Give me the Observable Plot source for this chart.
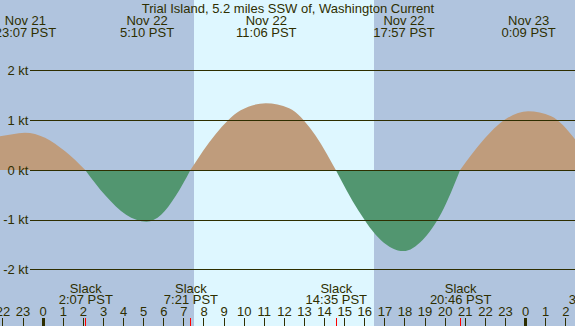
<!DOCTYPE html>
<html><head><meta charset="utf-8">
<script src="https://cdn.jsdelivr.net/npm/d3@7"></script>
<script src="https://cdn.jsdelivr.net/npm/@observablehq/plot@0.6"></script>
<style>body{margin:0;background:#b0c4de;overflow:hidden}</style>
</head><body><div id="chart"></div>
<script>
// Hours are measured from Nov 22 00:00 PST
const title = "Trial Island, 5.2 miles SSW of, Washington Current";
const curveHours = [-2.124, -1.5, -0.883, 0.117, 1.117, 2.117, 3.133, 4.15, 5.167, 5.894, 6.622, 7.35, 8.6, 9.85, 11.1, 12.26, 13.42, 14.583, 15.705, 16.83, 17.95, 18.89, 19.83, 20.767, 21.89, 23.02, 24.15, 25.3, 26.483];
const curveKnots = [0.68, 0.72, 0.75, 0.65, 0.375, 0, -0.52, -0.90, -1.04, -0.90, -0.52, 0, 0.72, 1.2, 1.34, 1.24, 0.78, 0, -0.815, -1.41, -1.63, -1.41, -0.87, 0, 0.59, 1.02, 1.18, 1.08, 0.62];
const extremeHours = [-0.883, 5.167, 11.1, 17.95, 24.15];
const extremeDates = ["Nov 21", "Nov 22", "Nov 22", "Nov 22", "Nov 23"];
const extremeTimes = ["23:07 PST", "5:10 PST", "11:06 PST", "17:57 PST", "0:09 PST"];
const slackHours = [2.117, 7.35, 14.583, 20.767, 27.5];
const slackTimes = ["2:07 PST", "7:21 PST", "14:35 PST", "20:46 PST", "3:30 PST"];
const hourTicks = [-2,-1,0,1,2,3,4,5,6,7,8,9,10,11,12,13,14,15,16,17,18,19,20,21,22,23,24,25,26];
const hourLabels = ["22","23","0","1","2","3","4","5","6","7","8","9","10","11","12","13","14","15","16","17","18","19","20","21","22","23","0","1","2"];
const midnightHours = [0, 24];
const daylight = [{start: 7.53, end: 16.48}];
const ktTicks = [2, 1, 0, -1, -2];

const ink = "#2e2e00";
const rows = [];
let seg = 0;
curveHours.forEach((t, i) => {
  rows.push({t, v: curveKnots[i], seg});
  if (curveKnots[i] === 0 && i > 0 && i < curveHours.length - 1) {
    seg++;
    rows.push({t, v: 0, seg});
  }
});
const segSign = {};
rows.forEach(r => { if (r.v !== 0) segSign[r.seg] = Math.sign(r.v); });
const flood = rows.filter(r => segSign[r.seg] > 0);
const ebb = rows.filter(r => segSign[r.seg] < 0);

const chart = Plot.plot({
  width: 575, height: 326, margin: 0,
  x: {domain: [-2.124, 26.483], axis: null},
  y: {domain: [-3.136, 3.417], axis: null},
  style: {background: "#b0c4de", fontFamily: "'Liberation Sans', Arial, sans-serif", fontSize: "13px", color: ink},
  marks: [
    Plot.rect(daylight, {x1: "start", x2: "end", fill: "#def7ff", shapeRendering: "crispEdges"}),
    Plot.areaY(flood, {x: "t", y: "v", z: "seg", fill: "#bf9c7c", curve: "monotone-x"}),
    Plot.areaY(ebb, {x: "t", y: "v", z: "seg", fill: "#529670", curve: "monotone-x"}),
    Plot.ruleY(ktTicks, {y: d => d, insetLeft: 30, stroke: ink, shapeRendering: "crispEdges"}),
    Plot.text(ktTicks, {y: d => d, text: d => `${d} kt`, frameAnchor: "left", dx: 28, textAnchor: "end", fill: ink}),
    Plot.text([title], {text: d => d, frameAnchor: "top", lineAnchor: "bottom", dy: 12, fill: ink}),
    Plot.text(extremeHours, {x: d => d, text: (d, i) => extremeDates[i], frameAnchor: "top", lineAnchor: "bottom", dy: 24, fill: ink}),
    Plot.text(extremeHours, {x: d => d, text: (d, i) => extremeTimes[i], frameAnchor: "top", lineAnchor: "bottom", dy: 36, fill: ink}),
    Plot.text(slackHours, {x: d => d, text: () => "Slack", frameAnchor: "bottom", lineAnchor: "bottom", dy: -34, fill: ink}),
    Plot.text(slackHours, {x: d => d, text: (d, i) => slackTimes[i], frameAnchor: "bottom", lineAnchor: "bottom", dy: -23, fill: ink}),
    Plot.text(hourTicks, {x: d => d, text: (d, i) => hourLabels[i], frameAnchor: "bottom", lineAnchor: "bottom", dy: -11, fill: ink}),
    Plot.ruleX(hourTicks, {x: d => d, insetTop: 318, stroke: ink, shapeRendering: "crispEdges"}),
    Plot.ruleX(midnightHours, {x: d => d, insetTop: 318, stroke: ink, strokeWidth: 3, shapeRendering: "crispEdges"}),
    Plot.ruleX(slackHours, {x: d => d, insetTop: 318, stroke: "red", shapeRendering: "crispEdges"})
  ]
});
document.getElementById("chart").append(chart);
</script>
</body></html>
